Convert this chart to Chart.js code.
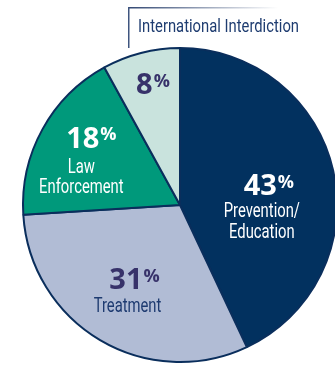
<!DOCTYPE html>
<html>
<head>
<meta charset="utf-8">
<script src="https://cdn.jsdelivr.net/npm/chart.js"></script>
<style>
  html, body { margin: 0; padding: 0; background: #fff; overflow: hidden; width: 335px; height: 366px; }
  #pie { position: absolute; left: 0; top: 0; }
</style>
</head>
<body>
<canvas id="pie" width="360" height="410"></canvas>
<script>
// spending shares, clockwise from 12 o'clock
const categories = [['Prevention/', 'Education'], ['Treatment'], ['Law', 'Enforcement'], ['International Interdiction']];
const shares = [43, 31, 18, 8];

const sliceColors = ['#02315f', '#b1bcd5', '#00997b', '#c9e3dd'];
const edgeColor = '#0a2e5c';

// where each slice's figure sits: angle clockwise from top (deg), fraction of radius
const labelSpots = [
  { angle: 77.3, dist: 0.58, num: '#ffffff', name: '#ffffff', nameDx: -7, nameDy: [32, 53] },
  { angle: 211.6, dist: 0.553, num: '#37326a', name: '#1d3a70', nameDx: -7, nameDy: [33] },
  { angle: 307.3, dist: 0.71, num: '#ffffff', name: '#ffffff', nameDx: -10, nameDy: [35.5, 55.5] },
  { angle: 347.4, dist: 0.79, num: '#37326a', name: null }
];

const NUM_FONT = 'bold 29px "Open Sans", "DejaVu Sans", sans-serif';
const PCT_FONT = 'bold 18px "Open Sans", "DejaVu Sans", sans-serif';
const NAME_FONT = '20px Roboto, "Liberation Sans", sans-serif';
const NARROW = 0.74;

// condensed type: Roboto squeezed horizontally
function narrowText(ctx, text, x, y, align, squeeze) {
  ctx.save();
  ctx.translate(x, y);
  ctx.scale(squeeze, 1);
  ctx.textAlign = align;
  ctx.fillText(text, 0, 0);
  ctx.restore();
}

const sliceLabels = {
  id: 'sliceLabels',
  afterDatasetsDraw(chart) {
    const ctx = chart.ctx;
    const arcs = chart.getDatasetMeta(0).data;
    ctx.save();
    ctx.textBaseline = 'alphabetic';
    arcs.forEach((arc, i) => {
      const spot = labelSpots[i];
      const a = spot.angle * Math.PI / 180;
      const r = arc.outerRadius * spot.dist;
      const cx = arc.x + Math.sin(a) * r;
      const cy = arc.y - Math.cos(a) * r;

      const digits = String(shares[i]);
      ctx.font = NUM_FONT;
      const wd = ctx.measureText(digits).width;
      ctx.font = PCT_FONT;
      const wp = ctx.measureText('%').width;
      const x0 = cx - (wd + 1 + wp) / 2;

      ctx.fillStyle = spot.num;
      ctx.textAlign = 'left';
      ctx.font = NUM_FONT;
      ctx.fillText(digits, x0, cy + 10.5);
      ctx.font = PCT_FONT;
      ctx.fillText('%', x0 + wd + 1, cy + 3);

      if (spot.name) {
        ctx.font = NAME_FONT;
        ctx.fillStyle = spot.name;
        categories[i].forEach((line, j) => {
          narrowText(ctx, line, cx + spot.nameDx, cy + spot.nameDy[j], 'center', NARROW);
        });
      }
    });

    // callout box for the smallest slice
    const bx = 128, by = 7;
    const grad = ctx.createLinearGradient(bx, 0, bx + 150, 0);
    grad.addColorStop(0, 'rgba(50,72,115,1)');
    grad.addColorStop(1, 'rgba(50,72,115,0)');
    ctx.fillStyle = grad;
    ctx.fillRect(bx, by, 150, 1.5);
    ctx.fillStyle = '#3f557f';
    ctx.fillRect(bx, by, 1.5, 41);
    ctx.font = '18.5px Roboto, "Liberation Sans", sans-serif';
    ctx.fillStyle = '#1e3c70';
    narrowText(ctx, categories[3][0], 138, 32, 'left', 0.8);
    ctx.restore();
  }
};

new Chart(document.getElementById('pie'), {
  type: 'pie',
  data: {
    labels: categories.map(c => c.join(' ')),
    datasets: [{
      data: shares,
      backgroundColor: sliceColors,
      borderColor: edgeColor,
      borderWidth: 2,
      radius: 157
    }]
  },
  options: {
    responsive: false,
    animation: false,
    layout: { padding: 0 },
    plugins: { legend: { display: false }, tooltip: { enabled: false } }
  },
  plugins: [sliceLabels]
});
</script>
</body>
</html>
